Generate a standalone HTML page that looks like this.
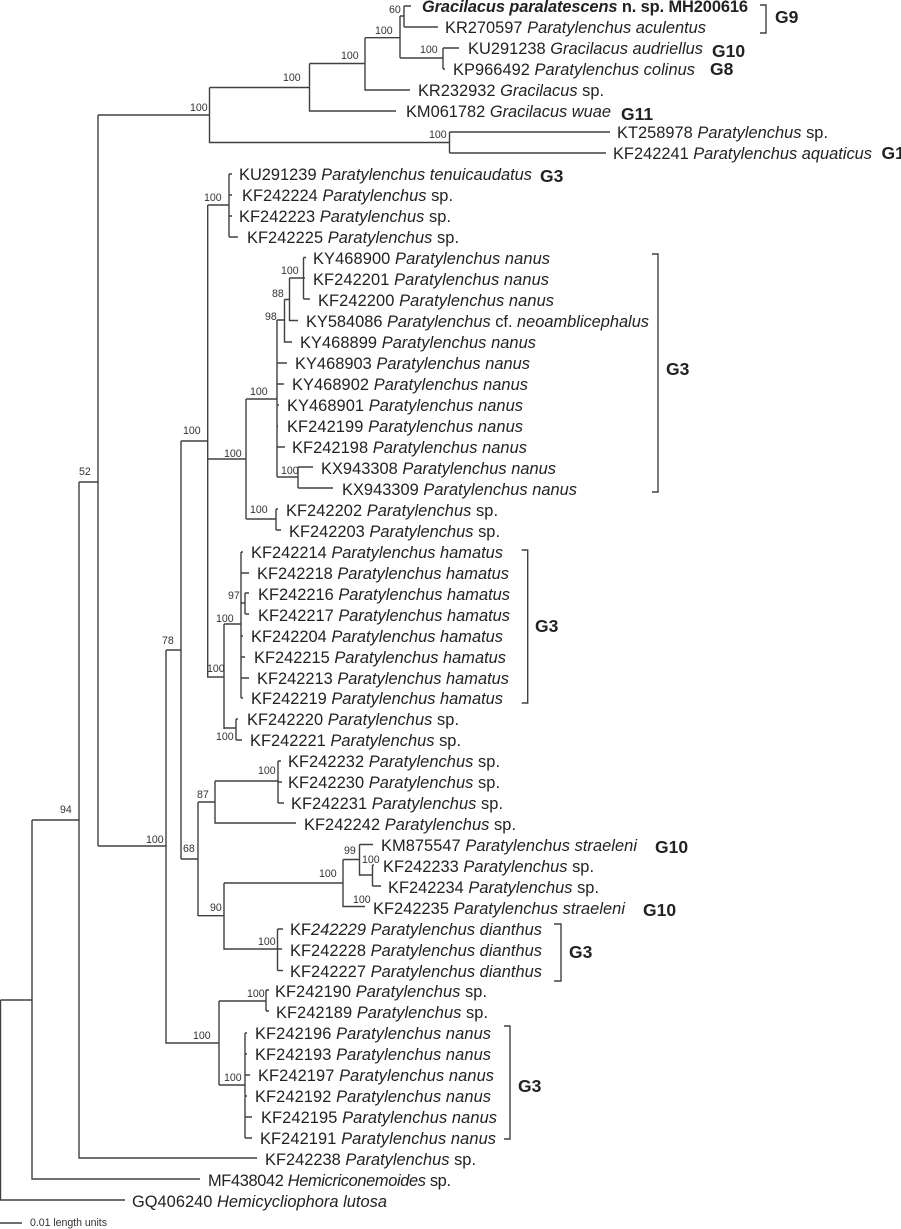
<!DOCTYPE html>
<html><head><meta charset="utf-8"><style>
html,body{margin:0;padding:0;background:#fff}
svg{display:block}
text{font-family:"Liberation Sans",sans-serif;fill:#222}
.t{font-size:16.4px}
.n{font-size:10.6px;fill:#333}
.g{font-size:17.5px;font-weight:bold;fill:#222}
.i{font-style:italic}
.b{font-weight:bold}
path{fill:none;stroke:#404040;stroke-width:1.4}
</style></head><body>
<svg width="901" height="1229" viewBox="0 0 901 1229" xmlns="http://www.w3.org/2000/svg">
<path d="M404 16H400M404 6V27M404 6H411M404 27H438M365 37.7H400V58M400 37.7V16M400 58H443M443 48V69M443 48H459M443 69H445M365 63.5V37.7M365 63.5V90H410M309.5 63.5H365M309.5 63.5V111H396M209.5 87.5H309.5V63.5M209.5 87.5V142.5H449.5M449.5 132V153M449.5 132H610M449.5 153H606M98 115H209.5M98 115V846M79 482H98M79 482V1158H257M32 820H79M32 820V1179H200M0.5 1000H32M32 1000V820M0.5 1000V1200H125M0 1223H22"/>
<path d="M98 846H166M166 650V1043H219M166 650H181M181 441V859M181 441H207.7M207.7 205V677H224M207.7 205H229M229 174V237M229 174H232M229 195H232M229 216H232M229 237H238M207.7 459H246M246 399V519M246 399H277M277 320V477M277 320H284.5M284.5 299.5V342H292M284.5 299.5H289.5M289.5 278V320.5H298M289.5 278H303.5M303.5 257.5V299M303.5 257.5H306M303.5 278H305M303.5 299H310M277 363H287M277 384H284M277 405H279M277 426H278M277 447H285M277 477H298M298 467V488M298 467H313M298 488H333M246 519H276M276 509V530M276 509H278M276 530H281"/>
<path d="M224 624V729M224 624H241M241 552V698M241 552H243M241 573H249M241 603H245M245 593V614M245 593H249M245 614H249M241 636H243M241 657H245M241 678H249M241 698H243M224 728H236M236 719V740M236 719H238M236 740H242"/>
<path d="M181 859H198M198 802V916M198 802H215M215 781V823H296M215 781H278M278 761V803M278 761H281M278 782H282M278 803H284M198 915.7H224M224 883V949H277.5M224 883H343M343 859.5V906.5H365M343 859.5H359.5M359.5 844.5V875H372.5M359.5 844.5H373M372.5 865V886M372.5 865H374M372.5 886H381M277.5 929V970.5M277.5 929H283M277.5 949H282M277.5 970.5H283"/>
<path d="M219 1001V1085M219 1001H266M266 990V1011M266 990H269M266 1011H269M219 1085H245M245 1033V1138M245 1033H247M245 1054H247M245 1075H250M245 1096H247M245 1117H252M245 1138H252"/>
<path d="M760 5H766V33H760M652 254H658V492H652M521.7 550H527.7V703H521.7M554 924H561V981H554M504 1026H510V1139H504"/>

<text class="t" x="422" y="12" textLength="326"><tspan class="i b">Gracilacus paralatescens </tspan><tspan class="b">n. sp. MH200616</tspan></text>
<text class="t" x="445" y="33" textLength="261">KR270597 <tspan class="i">Paratylenchus aculentus</tspan></text>
<text class="t" x="468" y="54" textLength="235">KU291238 <tspan class="i">Gracilacus audriellus</tspan></text>
<text class="t" x="453" y="75" textLength="242">KP966492 <tspan class="i">Paratylenchus colinus</tspan></text>
<text class="t" x="418" y="96" textLength="186">KR232932 <tspan class="i">Gracilacus</tspan> sp.</text>
<text class="t" x="406" y="117" textLength="205">KM061782 <tspan class="i">Gracilacus wuae</tspan></text>
<text class="t" x="617" y="138" textLength="211">KT258978 <tspan class="i">Paratylenchus</tspan> sp.</text>
<text class="t" x="613" y="159" textLength="259">KF242241 <tspan class="i">Paratylenchus aquaticus</tspan></text>
<text class="t" x="239" y="180" textLength="293">KU291239 <tspan class="i">Paratylenchus tenuicaudatus</tspan></text>
<text class="t" x="242" y="201" textLength="211">KF242224 <tspan class="i">Paratylenchus</tspan> sp.</text>
<text class="t" x="239" y="222" textLength="212">KF242223 <tspan class="i">Paratylenchus</tspan> sp.</text>
<text class="t" x="247" y="243" textLength="212">KF242225 <tspan class="i">Paratylenchus</tspan> sp.</text>
<text class="t" x="313" y="264" textLength="237">KY468900 <tspan class="i">Paratylenchus nanus</tspan></text>
<text class="t" x="313" y="285" textLength="236">KF242201 <tspan class="i">Paratylenchus nanus</tspan></text>
<text class="t" x="318" y="306" textLength="236">KF242200 <tspan class="i">Paratylenchus nanus</tspan></text>
<text class="t" x="306" y="327" textLength="343">KY584086 <tspan class="i">Paratylenchus</tspan> cf. <tspan class="i">neoamblicephalus</tspan></text>
<text class="t" x="300" y="348" textLength="236">KY468899 <tspan class="i">Paratylenchus nanus</tspan></text>
<text class="t" x="295" y="369" textLength="235">KY468903 <tspan class="i">Paratylenchus nanus</tspan></text>
<text class="t" x="292" y="390" textLength="236">KY468902 <tspan class="i">Paratylenchus nanus</tspan></text>
<text class="t" x="287" y="411" textLength="236">KY468901 <tspan class="i">Paratylenchus nanus</tspan></text>
<text class="t" x="287" y="432" textLength="236">KF242199 <tspan class="i">Paratylenchus nanus</tspan></text>
<text class="t" x="292" y="453" textLength="235">KF242198 <tspan class="i">Paratylenchus nanus</tspan></text>
<text class="t" x="321" y="474" textLength="235">KX943308 <tspan class="i">Paratylenchus nanus</tspan></text>
<text class="t" x="342" y="495" textLength="235">KX943309 <tspan class="i">Paratylenchus nanus</tspan></text>
<text class="t" x="286" y="516" textLength="212">KF242202 <tspan class="i">Paratylenchus</tspan> sp.</text>
<text class="t" x="289" y="537" textLength="211">KF242203 <tspan class="i">Paratylenchus</tspan> sp.</text>
<text class="t" x="251" y="558" textLength="252">KF242214 <tspan class="i">Paratylenchus hamatus</tspan></text>
<text class="t" x="257" y="579" textLength="252">KF242218 <tspan class="i">Paratylenchus hamatus</tspan></text>
<text class="t" x="258" y="600" textLength="252">KF242216 <tspan class="i">Paratylenchus hamatus</tspan></text>
<text class="t" x="258" y="621" textLength="252">KF242217 <tspan class="i">Paratylenchus hamatus</tspan></text>
<text class="t" x="251" y="642" textLength="252">KF242204 <tspan class="i">Paratylenchus hamatus</tspan></text>
<text class="t" x="254" y="663" textLength="252">KF242215 <tspan class="i">Paratylenchus hamatus</tspan></text>
<text class="t" x="257" y="684" textLength="252">KF242213 <tspan class="i">Paratylenchus hamatus</tspan></text>
<text class="t" x="251" y="704" textLength="252">KF242219 <tspan class="i">Paratylenchus hamatus</tspan></text>
<text class="t" x="247" y="725" textLength="212">KF242220 <tspan class="i">Paratylenchus</tspan> sp.</text>
<text class="t" x="250" y="746" textLength="211">KF242221 <tspan class="i">Paratylenchus</tspan> sp.</text>
<text class="t" x="288" y="767" textLength="212">KF242232 <tspan class="i">Paratylenchus</tspan> sp.</text>
<text class="t" x="288" y="788" textLength="212">KF242230 <tspan class="i">Paratylenchus</tspan> sp.</text>
<text class="t" x="291" y="809" textLength="212">KF242231 <tspan class="i">Paratylenchus</tspan> sp.</text>
<text class="t" x="304" y="830" textLength="212">KF242242 <tspan class="i">Paratylenchus</tspan> sp.</text>
<text class="t" x="381" y="851" textLength="256">KM875547 <tspan class="i">Paratylenchus straeleni</tspan></text>
<text class="t" x="383" y="872" textLength="211">KF242233 <tspan class="i">Paratylenchus</tspan> sp.</text>
<text class="t" x="388" y="893" textLength="211">KF242234 <tspan class="i">Paratylenchus</tspan> sp.</text>
<text class="t" x="373" y="914" textLength="252">KF242235 <tspan class="i">Paratylenchus straeleni</tspan></text>
<text class="t" x="290" y="935" textLength="252">KF<tspan class="i">242229 Paratylenchus dianthus</tspan></text>
<text class="t" x="290" y="956" textLength="252">KF242228 <tspan class="i">Paratylenchus dianthus</tspan></text>
<text class="t" x="290" y="977" textLength="252">KF242227 <tspan class="i">Paratylenchus dianthus</tspan></text>
<text class="t" x="275" y="997" textLength="212">KF242190 <tspan class="i">Paratylenchus</tspan> sp.</text>
<text class="t" x="276" y="1018" textLength="212">KF242189 <tspan class="i">Paratylenchus</tspan> sp.</text>
<text class="t" x="255" y="1039" textLength="236">KF242196 <tspan class="i">Paratylenchus nanus</tspan></text>
<text class="t" x="255" y="1060" textLength="236">KF242193 <tspan class="i">Paratylenchus nanus</tspan></text>
<text class="t" x="258" y="1081" textLength="236">KF242197 <tspan class="i">Paratylenchus nanus</tspan></text>
<text class="t" x="255" y="1102" textLength="236">KF242192 <tspan class="i">Paratylenchus nanus</tspan></text>
<text class="t" x="261" y="1123" textLength="236">KF242195 <tspan class="i">Paratylenchus nanus</tspan></text>
<text class="t" x="260" y="1144" textLength="236">KF242191 <tspan class="i">Paratylenchus nanus</tspan></text>
<text class="t" x="265" y="1165" textLength="211">KF242238 <tspan class="i">Paratylenchus</tspan> sp.</text>
<text class="t" x="208" y="1186" textLength="243">MF438042 <tspan class="i">Hemicriconemoides</tspan> sp.</text>
<text class="t" x="132" y="1207" textLength="255">GQ406240 <tspan class="i">Hemicycliophora lutosa</tspan></text>

<text class="g" x="775" y="23">G9</text>
<text class="g" x="712" y="57">G10</text>
<text class="g" x="710" y="75">G8</text>
<text class="g" x="621" y="120">G11</text>
<text class="g" x="881.5" y="159">G1</text>
<text class="g" x="540" y="182">G3</text>
<text class="g" x="666" y="375">G3</text>
<text class="g" x="535" y="632">G3</text>
<text class="g" x="655" y="853">G10</text>
<text class="g" x="643" y="916">G10</text>
<text class="g" x="569" y="958">G3</text>
<text class="g" x="518" y="1092">G3</text>

<text class="n" x="389" y="13">60</text>
<text class="n" x="375" y="34">100</text>
<text class="n" x="341" y="59">100</text>
<text class="n" x="283" y="81">100</text>
<text class="n" x="190" y="111">100</text>
<text class="n" x="420" y="53">100</text>
<text class="n" x="429" y="138">100</text>
<text class="n" x="204" y="201">100</text>
<text class="n" x="281" y="274">100</text>
<text class="n" x="272" y="297">88</text>
<text class="n" x="265" y="320">98</text>
<text class="n" x="250" y="395">100</text>
<text class="n" x="224" y="457">100</text>
<text class="n" x="183" y="434">100</text>
<text class="n" x="281" y="474">100</text>
<text class="n" x="250" y="513">100</text>
<text class="n" x="228" y="599">97</text>
<text class="n" x="216" y="622">100</text>
<text class="n" x="207" y="672">100</text>
<text class="n" x="216" y="740">100</text>
<text class="n" x="258" y="774">100</text>
<text class="n" x="197" y="798">87</text>
<text class="n" x="183" y="852">68</text>
<text class="n" x="146" y="843">100</text>
<text class="n" x="344" y="854">99</text>
<text class="n" x="362" y="863">100</text>
<text class="n" x="319" y="877">100</text>
<text class="n" x="353" y="903">100</text>
<text class="n" x="210" y="911">90</text>
<text class="n" x="258" y="945">100</text>
<text class="n" x="247" y="997">100</text>
<text class="n" x="193" y="1039">100</text>
<text class="n" x="224" y="1081">100</text>
<text class="n" x="162" y="644">78</text>
<text class="n" x="79" y="475">52</text>
<text class="n" x="60" y="813">94</text>
<text class="n" x="30" y="1226" textLength="77">0.01 length units</text>
</svg>
</body></html>
